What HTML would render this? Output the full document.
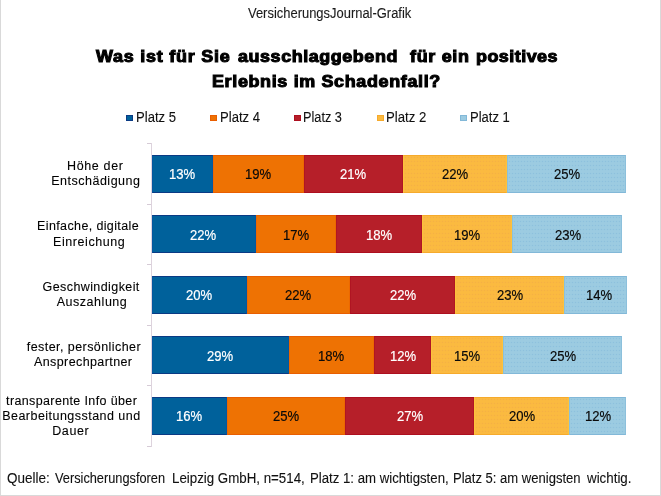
<!DOCTYPE html>
<html lang="de"><head><meta charset="utf-8"><title>VersicherungsJournal-Grafik</title>
<style>
html,body{margin:0;padding:0;background:#fff;}
body{width:661px;height:496px;position:relative;overflow:hidden;font-family:"Liberation Sans",Arial,sans-serif;color:#222;}
.frame{position:absolute;left:0;top:0;width:659px;height:495px;border-left:1px solid #d9d9d9;border-right:1px solid #d9d9d9;border-bottom:1px solid #d9d9d9;}
.t{position:absolute;white-space:pre;margin:0;-webkit-text-stroke:0.1px currentColor;}
.sq{position:absolute;top:115px;width:7px;height:6px;box-sizing:border-box;border:1px solid;}
.axis{position:absolute;left:151px;top:143px;width:1px;height:304px;background:#ddd3dd;}
.tick{position:absolute;left:147px;width:4px;height:1px;background:#d6cbd6;}
.seg{position:absolute;text-align:center;font-size:14px;box-sizing:border-box;border:1px solid;}
.d3{background-image:radial-gradient(circle at 1.5px 1.5px,rgba(214,130,90,0.16) 0.6px,transparent 1.1px);background-size:3px 4px;}
.d4{background-image:radial-gradient(circle at 1.5px 1.5px,rgba(70,140,200,0.16) 0.6px,transparent 1.1px);background-size:3px 4px;}
.seg span{display:inline-block;transform:scaleX(0.935);-webkit-text-stroke:0.2px currentColor;}
</style></head><body>
<div class="frame"></div>
<div class="t" style="left:248.2px;top:4.8px;font-size:14px;line-height:17px;letter-spacing:0.000px;color:#1a1a1a;transform-origin:0 0;transform:scaleX(0.9244);">VersicherungsJournal-Grafik</div>
<div class="t" style="left:96.0px;top:46.9px;font-size:16px;line-height:19px;letter-spacing:0.689px;color:#000;font-weight:bold;transform-origin:0 0;transform:scaleX(1.12);-webkit-text-stroke:1.0px #000;">Was ist für Sie</div>
<div class="t" style="left:238.2px;top:46.9px;font-size:16px;line-height:19px;letter-spacing:0.510px;color:#000;font-weight:bold;transform-origin:0 0;transform:scaleX(1.12);-webkit-text-stroke:1.0px #000;">ausschlaggebend</div>
<div class="t" style="left:409.5px;top:46.9px;font-size:16px;line-height:19px;letter-spacing:0.625px;color:#000;font-weight:bold;transform-origin:0 0;transform:scaleX(1.12);-webkit-text-stroke:1.0px #000;">für ein</div>
<div class="t" style="left:475.8px;top:46.9px;font-size:16px;line-height:19px;letter-spacing:0.424px;color:#000;font-weight:bold;transform-origin:0 0;transform:scaleX(1.12);-webkit-text-stroke:1.0px #000;">positives</div>
<div class="t" style="left:212.1px;top:71.8px;font-size:16px;line-height:19px;letter-spacing:0.590px;color:#000;font-weight:bold;transform-origin:0 0;transform:scaleX(1.12);-webkit-text-stroke:1.0px #000;">Erlebnis im Schadenfall?</div>
<div class="t" style="left:135.7px;top:108.6px;font-size:14px;line-height:17px;letter-spacing:0.000px;color:#111;transform-origin:0 0;transform:scaleX(0.9341);">Platz 5</div>
<div class="t" style="left:219.9px;top:108.6px;font-size:14px;line-height:17px;letter-spacing:0.000px;color:#111;transform-origin:0 0;transform:scaleX(0.9341);">Platz 4</div>
<div class="t" style="left:302.8px;top:108.6px;font-size:14px;line-height:17px;letter-spacing:0.000px;color:#111;transform-origin:0 0;transform:scaleX(0.9098);">Platz 3</div>
<div class="t" style="left:386.0px;top:108.6px;font-size:14px;line-height:17px;letter-spacing:0.000px;color:#111;transform-origin:0 0;transform:scaleX(0.9415);">Platz 2</div>
<div class="t" style="left:469.9px;top:108.6px;font-size:14px;line-height:17px;letter-spacing:0.000px;color:#111;transform-origin:0 0;transform:scaleX(0.9317);">Platz 1</div>
<div class="t" style="left:67.0px;top:158.8px;font-size:12.5px;line-height:15px;letter-spacing:0.643px;color:#000;">Höhe der</div>
<div class="t" style="left:51.2px;top:174.3px;font-size:12.5px;line-height:15px;letter-spacing:0.508px;color:#000;">Entschädigung</div>
<div class="t" style="left:37.1px;top:219.3px;font-size:12.5px;line-height:15px;letter-spacing:0.371px;color:#000;">Einfache, digitale</div>
<div class="t" style="left:53.0px;top:234.5px;font-size:12.5px;line-height:15px;letter-spacing:0.570px;color:#000;">Einreichung</div>
<div class="t" style="left:42.6px;top:279.6px;font-size:12.5px;line-height:15px;letter-spacing:0.407px;color:#000;">Geschwindigkeit</div>
<div class="t" style="left:56.7px;top:295.0px;font-size:12.5px;line-height:15px;letter-spacing:0.533px;color:#000;">Auszahlung</div>
<div class="t" style="left:26.8px;top:339.9px;font-size:12.5px;line-height:15px;letter-spacing:0.432px;color:#000;">fester, persönlicher</div>
<div class="t" style="left:34.0px;top:355.1px;font-size:12.5px;line-height:15px;letter-spacing:0.400px;color:#000;">Ansprechpartner</div>
<div class="t" style="left:6.1px;top:393.6px;font-size:12.5px;line-height:15px;letter-spacing:0.367px;color:#000;">transparente Info über</div>
<div class="t" style="left:2.2px;top:408.8px;font-size:12.5px;line-height:15px;letter-spacing:0.470px;color:#000;">Bearbeitungsstand und</div>
<div class="t" style="left:52.3px;top:423.8px;font-size:12.5px;line-height:15px;letter-spacing:0.550px;color:#000;">Dauer</div>
<div class="t" style="left:7.3px;top:470.0px;font-size:13.8px;line-height:17px;letter-spacing:0.000px;color:#111;transform-origin:0 0;transform:scaleX(0.9762);">Quelle:</div>
<div class="t" style="left:54.9px;top:470.0px;font-size:13.8px;line-height:17px;letter-spacing:0.000px;color:#111;transform-origin:0 0;transform:scaleX(0.9254);">Versicherungsforen</div>
<div class="t" style="left:172.2px;top:470.0px;font-size:13.8px;line-height:17px;letter-spacing:0.000px;color:#111;transform-origin:0 0;transform:scaleX(0.9644);">Leipzig GmbH, n=514,</div>
<div class="t" style="left:309.8px;top:470.0px;font-size:13.8px;line-height:17px;letter-spacing:0.000px;color:#111;transform-origin:0 0;transform:scaleX(0.9566);">Platz 1: am wichtigsten,</div>
<div class="t" style="left:453.0px;top:470.0px;font-size:13.8px;line-height:17px;letter-spacing:0.000px;color:#111;transform-origin:0 0;transform:scaleX(0.9451);">Platz 5: am wenigsten</div>
<div class="t" style="left:587.1px;top:470.0px;font-size:13.8px;line-height:17px;letter-spacing:0.000px;color:#111;transform-origin:0 0;transform:scaleX(0.9667);">wichtig.</div>
<div class="sq" style="left:126px;background:#00619b;border-color:#0a3a84"></div>
<div class="sq" style="left:210px;background:#ee7203;border-color:#e95e00"></div>
<div class="sq" style="left:293.5px;background:#b61f29;border-color:#ad0f1f"></div>
<div class="sq" style="left:376.5px;background:#fbba40;border-color:#f6aa2c"></div>
<div class="sq" style="left:460px;background:#9ccbe1;border-color:#82b8d8"></div>
<div class="axis"></div>
<div class="tick" style="top:143px"></div>
<div class="tick" style="top:204px"></div>
<div class="tick" style="top:264px"></div>
<div class="tick" style="top:325px"></div>
<div class="tick" style="top:385px"></div>
<div class="tick" style="top:446px"></div>
<div class="seg" style="left:152px;top:155px;width:61px;height:38px;line-height:37px;background-color:#00619b;border-color:#0a3a84 #0457a0;color:#fff"><span style="margin-left:-1.4px">13%</span></div>
<div class="seg" style="left:213px;top:155px;width:91px;height:38px;line-height:37px;background-color:#ee7203;border-color:#e95e00 #ec6800;color:#0a0a0a"><span style="margin-left:-0.9px">19%</span></div>
<div class="seg" style="left:304px;top:155px;width:99px;height:38px;line-height:37px;background-color:#b61f29;border-color:#ad0f1f #b01523;color:#fff"><span style="margin-left:-0.3px">21%</span></div>
<div class="seg d3" style="left:403px;top:155px;width:104px;height:38px;line-height:37px;background-color:#fbba40;border-color:#f6aa2c #fcc23c;color:#0a0a0a"><span style="margin-left:0.4px">22%</span></div>
<div class="seg d4" style="left:507px;top:155px;width:119px;height:38px;line-height:37px;background-color:#9ccbe1;border-color:#82b8d8 #8cc0dc;color:#0a0a0a"><span style="margin-left:1.2px">25%</span></div>
<div class="seg" style="left:152px;top:215px;width:104px;height:38px;line-height:39px;background-color:#00619b;border-color:#0a3a84 #0457a0;color:#fff"><span style="margin-left:-1.3px">22%</span></div>
<div class="seg" style="left:256px;top:215px;width:80px;height:38px;line-height:39px;background-color:#ee7203;border-color:#e95e00 #ec6800;color:#0a0a0a"><span style="margin-left:-0.6px">17%</span></div>
<div class="seg" style="left:336px;top:215px;width:86px;height:38px;line-height:39px;background-color:#b61f29;border-color:#ad0f1f #b01523;color:#fff"><span style="margin-left:-0.1px">18%</span></div>
<div class="seg d3" style="left:422px;top:215px;width:90px;height:38px;line-height:39px;background-color:#fbba40;border-color:#f6aa2c #fcc23c;color:#0a0a0a"><span style="margin-left:0.5px">19%</span></div>
<div class="seg d4" style="left:512px;top:215px;width:110px;height:38px;line-height:39px;background-color:#9ccbe1;border-color:#82b8d8 #8cc0dc;color:#0a0a0a"><span style="margin-left:1.2px">23%</span></div>
<div class="seg" style="left:152px;top:276px;width:95px;height:38px;line-height:37px;background-color:#00619b;border-color:#0a3a84 #0457a0;color:#fff"><span style="margin-left:-1.3px">20%</span></div>
<div class="seg" style="left:247px;top:276px;width:103px;height:38px;line-height:37px;background-color:#ee7203;border-color:#e95e00 #ec6800;color:#0a0a0a"><span style="margin-left:-0.6px">22%</span></div>
<div class="seg" style="left:350px;top:276px;width:105px;height:38px;line-height:37px;background-color:#b61f29;border-color:#ad0f1f #b01523;color:#fff"><span style="margin-left:0.1px">22%</span></div>
<div class="seg d3" style="left:455px;top:276px;width:109px;height:38px;line-height:37px;background-color:#fbba40;border-color:#f6aa2c #fcc23c;color:#0a0a0a"><span style="margin-left:0.8px">23%</span></div>
<div class="seg d4" style="left:564px;top:276px;width:63px;height:38px;line-height:37px;background-color:#9ccbe1;border-color:#82b8d8 #8cc0dc;color:#0a0a0a"><span style="margin-left:6.4px">14%</span></div>
<div class="seg" style="left:152px;top:336px;width:137px;height:38px;line-height:39px;background-color:#00619b;border-color:#0a3a84 #0457a0;color:#fff"><span style="margin-left:-1.2px">29%</span></div>
<div class="seg" style="left:289px;top:336px;width:85px;height:38px;line-height:39px;background-color:#ee7203;border-color:#e95e00 #ec6800;color:#0a0a0a"><span style="margin-left:-0.4px">18%</span></div>
<div class="seg" style="left:374px;top:336px;width:57px;height:38px;line-height:39px;background-color:#b61f29;border-color:#ad0f1f #b01523;color:#fff"><span style="margin-left:0.1px">12%</span></div>
<div class="seg d3" style="left:431px;top:336px;width:72px;height:38px;line-height:39px;background-color:#fbba40;border-color:#f6aa2c #fcc23c;color:#0a0a0a"><span style="margin-left:0.5px">15%</span></div>
<div class="seg d4" style="left:503px;top:336px;width:119px;height:38px;line-height:39px;background-color:#9ccbe1;border-color:#82b8d8 #8cc0dc;color:#0a0a0a"><span style="margin-left:1.2px">25%</span></div>
<div class="seg" style="left:152px;top:397px;width:75px;height:38px;line-height:37px;background-color:#00619b;border-color:#0a3a84 #0457a0;color:#fff"><span style="margin-left:-1.4px">16%</span></div>
<div class="seg" style="left:227px;top:397px;width:118px;height:38px;line-height:37px;background-color:#ee7203;border-color:#e95e00 #ec6800;color:#0a0a0a"><span style="margin-left:-0.7px">25%</span></div>
<div class="seg" style="left:345px;top:397px;width:129px;height:38px;line-height:37px;background-color:#b61f29;border-color:#ad0f1f #b01523;color:#fff"><span style="margin-left:0.1px">27%</span></div>
<div class="seg d3" style="left:474px;top:397px;width:95px;height:38px;line-height:37px;background-color:#fbba40;border-color:#f6aa2c #fcc23c;color:#0a0a0a"><span style="margin-left:0.9px">20%</span></div>
<div class="seg d4" style="left:569px;top:397px;width:57px;height:38px;line-height:37px;background-color:#9ccbe1;border-color:#82b8d8 #8cc0dc;color:#0a0a0a"><span style="margin-left:1.4px">12%</span></div>
</body></html>
